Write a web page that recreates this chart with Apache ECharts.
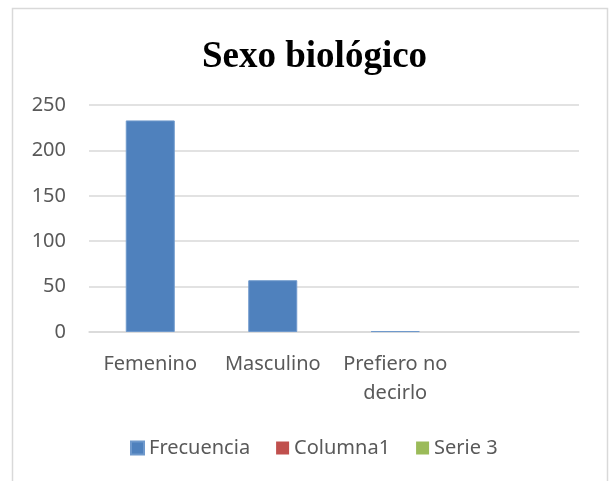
<!DOCTYPE html>
<html>
<head>
<meta charset="utf-8">
<script src="https://cdn.jsdelivr.net/npm/echarts@6/dist/echarts.min.js"></script>
<style>html,body{margin:0;padding:0;background:#fff}#c{width:611px;height:481px}</style>
</head>
<body>
<div id="c"></div>
<script>
const titleText = 'Sexo biológico';
const categories = ['Femenino', 'Masculino', 'Prefiero no decirlo', ''];
const frecuencia = [233, 57, 1, null];
const columna1 = [null, null, null, null];
const serie3 = [null, null, null, null];
const yTicks = { min: 0, max: 250, interval: 50 };

const chart = echarts.init(document.getElementById('c'), null, { renderer: 'canvas' });
const lblColor = '#595959';
const font = 'Noto Sans';
chart.setOption({
  animation: false,
  backgroundColor: '#fff',
  graphic: [{
    type: 'rect', shape: { x: 12.5, y: 8.5, width: 595, height: 490 },
    style: { fill: 'none', stroke: '#d9d9d9', lineWidth: 1.5 }, z: -1
  }],
  title: {
    text: titleText, left: 197, top: 34,
    textStyle: { fontFamily: 'Liberation Serif', fontWeight: 'bold', fontSize: 37, color: '#000' }
  },
  grid: { left: 89, right: 32, top: 105, bottom: 149 },
  legend: {
    left: 125, top: 433,
    itemWidth: 13, itemHeight: 13, itemGap: 26,
    icon: 'rect',
    textStyle: { fontFamily: font, fontSize: 20, color: lblColor },
    data: ['Frecuencia', 'Columna1', 'Serie 3']
  },
  xAxis: {
    type: 'category', data: categories,
    axisLine: { lineStyle: { color: '#d9d9d9', width: 1.5 } },
    axisTick: { show: false },
    axisLabel: {
      interval: 0, margin: 18, color: lblColor, fontFamily: font, fontSize: 20, lineHeight: 29,
      formatter: v => v.replace('no ', 'no\n')
    }
  },
  yAxis: {
    type: 'value', min: yTicks.min, max: yTicks.max, interval: yTicks.interval,
    axisLine: { show: false }, axisTick: { show: false },
    splitLine: { lineStyle: { color: '#d9d9d9', width: 1.5 } },
    axisLabel: { margin: 23, color: lblColor, fontFamily: font, fontSize: 20 }
  },
  series: [
    { name: 'Frecuencia', type: 'bar', data: frecuencia, barWidth: '40%', barGap: '-100%',
      itemStyle: { color: '#4f81bd', borderColor: '#6f99cc', borderWidth: 1 } },
    { name: 'Columna1', type: 'bar', data: columna1, barWidth: '40%', barGap: '-100%', itemStyle: { color: '#c0504d' } },
    { name: 'Serie 3', type: 'bar', data: serie3, barWidth: '40%', barGap: '-100%', itemStyle: { color: '#9bbb59' } }
  ]
});
</script>
</body>
</html>
